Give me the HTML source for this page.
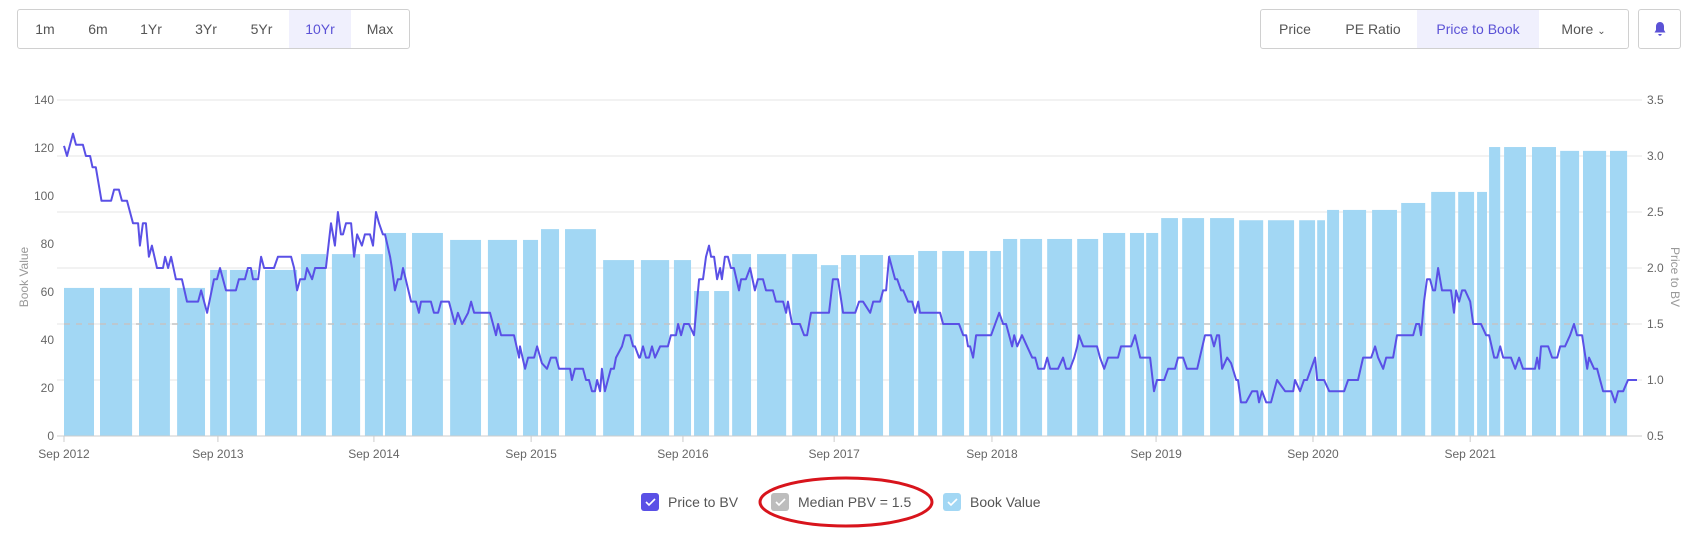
<!DOCTYPE html>
<html><head><meta charset="utf-8"><style>
body{margin:0;background:#fff;font-family:"Liberation Sans",sans-serif;width:1699px;height:542px;overflow:hidden;position:relative}
.grp{position:absolute;top:9px;height:40px;border:1px solid #d0d0d0;border-radius:3px;box-sizing:border-box;display:flex;background:#fff}
.btn{height:38px;line-height:38px;font-size:14px;color:#555;text-align:center;box-sizing:border-box}
.btn.act{background:#f0f0fd;color:#5b52d6}
</style></head><body>
<div class="grp" style="left:17px;width:393px">
<div class="btn" style="width:54px">1m</div>
<div class="btn" style="width:52px">6m</div>
<div class="btn" style="width:54px">1Yr</div>
<div class="btn" style="width:56px">3Yr</div>
<div class="btn" style="width:55px">5Yr</div>
<div class="btn act" style="width:62px">10Yr</div>
<div class="btn" style="width:58px">Max</div>
</div>
<div class="grp" style="left:1260px;width:369px">
<div class="btn" style="width:68px">Price</div>
<div class="btn" style="width:88px">PE Ratio</div>
<div class="btn act" style="width:122px">Price to Book</div>
<div class="btn" style="width:89px">More <span style="font-size:10px">&#8964;</span></div>
</div>
<div class="grp" style="left:1638px;width:43px;justify-content:center;align-items:center">
<svg width="14" height="16" viewBox="0 0 14 16"><path d="M7 1c-2.5 0-4 2-4 4.5V9L1.5 11.5h11L11 9V5.5C11 3 9.5 1 7 1z M5.3 13a1.7 1.7 0 0 0 3.4 0z" fill="#5b52d6"/></svg>
</div>
<svg id="chart" width="1699" height="542" style="position:absolute;left:0;top:0"></svg>
<script>
const xTickLabels=["Sep 2012","Sep 2013","Sep 2014","Sep 2015","Sep 2016","Sep 2017","Sep 2018","Sep 2019","Sep 2020","Sep 2021"];
const xTickWeeks=[0,51.3,103.3,155.7,206.3,256.7,309.3,364,416.3,468.7];
const leftTicks=[0,20,40,60,80,100,120,140];
const rightTicks=[0.5,1.0,1.5,2.0,2.5,3.0,3.5];
const medianPBV=1.5;
const barStart=[0,12,25,37.7,48.7,55.3,67,79,89.3,100.3,107,116,128.7,141.3,153,159,167,179.7,192.3,203.3,210,216.7,222.7,231,242.7,252.3,259,265.3,275,284.7,292.7,301.7,308.7,313,318.7,327.7,337.7,346.3,355.3,360.7,365.7,372.7,382,391.7,401.3,411.7,417.7,421,426.3,436,445.7,455.7,464.7,471,475,480,489.3,498.7,506.3,515.3];
const barEnd=[10,22.7,35.3,47,54.3,64.3,77.7,87.3,98.7,106.3,114,126.3,139,151,158,165,177.3,190,201.7,209,215,221.7,229,240.7,251,258,264,273,283.3,291,300,307.7,312.3,317.7,326,336,344.7,353.7,360,364.7,371.3,380,390,399.7,410,417,420.3,425,434,444.3,453.7,463.7,470,474.3,478.7,487.3,497.3,505,514,521];
const bookValue=[61.7,61.7,61.7,61.7,69.2,69.2,69.2,75.8,75.8,75.8,84.6,84.6,81.7,81.7,81.7,86.2,86.2,73.3,73.3,73.3,60.4,60.4,75.8,75.8,75.8,71.2,75.4,75.4,75.4,77.1,77.1,77.1,77.1,82.1,82.1,82.1,82.1,84.6,84.6,84.6,90.8,90.8,90.8,89.9,89.9,89.9,89.9,94.2,94.2,94.2,97.1,101.7,101.7,101.7,120.4,120.4,120.4,118.8,118.8,118.8];
const pbvWeeks=[0,1,3,4,6.3,7.3,8.7,9.5,10.6,12.5,15.7,16.7,18.3,19.3,21,23,24.7,25.3,26.3,27.3,28.3,29.3,31,33,33.7,34.7,35.7,37.3,39.3,41,44.7,45.7,46.7,47.7,50,51,52,53,54,57.3,58.3,60.3,61.3,62.3,63,64.7,65.7,66.7,70,71.3,75.7,76.7,77.7,78.7,80.3,81,82.7,83.7,87.3,89,90.3,91.3,92.3,93,94,95.7,96.7,97.7,99.3,100.3,102,103,104,105,106.3,107,108.7,109.3,110.3,111.3,112.3,113,115.7,117.3,118.3,119,122.3,123.3,124.7,125.7,128.3,130.3,131.3,132.7,134.7,135.7,136.7,142,144,144.7,145.7,150,151.7,152,153.7,154.7,156.7,157.7,159.3,161,162.3,164,165,168.7,169.3,170.3,173,174,175,176,177,177.7,178.7,179.3,180.3,182.3,183.3,184,186,187,188.7,189.7,190.3,191.7,192,193,194,195,196,197,198.7,201.3,202.3,204,204.7,205.7,206.7,208.3,210,211,211.7,213,214,215,215.7,216.7,217.7,218.7,219.3,220.3,221.3,222.3,223.3,225,225.7,227.3,228.7,230.3,231.3,233,234,236.3,237.3,239.7,240.7,241.3,242.7,245.3,246.7,247.7,249,255,256.3,258,259.7,263.7,265,266.3,268.7,269.7,272,273,274,275,277,277.7,279,279.7,281.3,282.7,283.7,284.7,285.3,292,293,298.3,299.7,300.7,301.3,302,303,304,309,311.7,313,314,316,316.7,317.7,319.3,321,322.7,323.7,324.7,326.7,327.7,328.7,331.3,333,334,335.3,336.7,337.7,338.3,339.7,344.3,345.3,346.7,348,351.3,352.3,355.7,357,358.7,362,363.3,364.3,366.7,368,370.3,371.3,373,374.3,377.7,380.3,382.3,383.3,384.3,385,386,387.7,389,390.7,391.3,392.3,394,396,397.7,398.3,399.3,400.7,402.3,404.3,407,409.7,410.3,412,413.3,414.3,417,417.7,420,421.7,426.7,428,431.3,433,435.7,437,438,439.7,440.7,443,444.3,449.7,450.7,451.7,452.3,453.3,454.3,455.3,456.3,457,458,459.3,462.3,463.3,464,465,466,467,468.7,469.7,472.3,474,475,476.7,477.7,478.7,479.7,482.3,483.7,485,486.3,490.3,491,491.7,492.3,494.7,496,497.7,498.7,500.3,502,503.3,504.3,506,507.7,508.3,510,511,513,515.7,517,518,519.7,521.3,524.3];
const pbvValues=[3.09,3.0,3.2,3.1,3.1,3.0,3.0,2.9,2.9,2.6,2.6,2.7,2.7,2.6,2.6,2.4,2.4,2.2,2.4,2.4,2.1,2.2,2.0,2.0,2.1,2.0,2.1,1.9,1.9,1.7,1.7,1.8,1.7,1.6,1.9,1.9,2.0,1.9,1.8,1.8,1.9,1.9,2.0,2.0,1.9,1.9,2.1,2.0,2.0,2.1,2.1,2.0,1.8,1.9,1.9,2.0,1.9,2.0,2.0,2.4,2.2,2.5,2.3,2.3,2.4,2.4,2.1,2.3,2.2,2.3,2.3,2.2,2.5,2.4,2.3,2.3,2.1,2.0,1.8,1.9,1.9,2.0,1.7,1.7,1.6,1.7,1.7,1.6,1.6,1.7,1.7,1.5,1.6,1.5,1.6,1.7,1.6,1.6,1.4,1.5,1.4,1.4,1.2,1.3,1.1,1.2,1.2,1.3,1.15,1.1,1.2,1.2,1.1,1.1,1.0,1.1,1.1,1.0,1.0,0.9,0.9,1.0,0.9,1.1,0.9,1.1,1.1,1.2,1.3,1.4,1.4,1.3,1.3,1.2,1.2,1.3,1.2,1.2,1.3,1.2,1.3,1.3,1.4,1.4,1.5,1.4,1.5,1.5,1.4,1.7,1.9,1.9,2.1,2.2,2.1,2.1,1.9,2.0,1.9,2.1,2.1,2.0,2.0,1.8,1.9,1.9,2.0,1.8,1.9,1.9,1.8,1.8,1.7,1.7,1.6,1.7,1.5,1.5,1.4,1.4,1.6,1.6,1.9,1.9,1.6,1.6,1.7,1.7,1.6,1.7,1.7,1.8,1.8,2.1,1.9,1.9,1.8,1.8,1.7,1.7,1.6,1.7,1.6,1.6,1.5,1.5,1.4,1.4,1.3,1.3,1.2,1.4,1.4,1.6,1.5,1.5,1.3,1.4,1.3,1.4,1.3,1.2,1.2,1.1,1.1,1.2,1.1,1.1,1.2,1.1,1.1,1.2,1.3,1.4,1.3,1.3,1.2,1.1,1.2,1.2,1.3,1.3,1.4,1.2,1.2,0.9,1.0,1.0,1.1,1.1,1.2,1.2,1.1,1.1,1.4,1.4,1.3,1.4,1.4,1.1,1.2,1.15,1.0,1.0,0.8,0.8,0.9,0.9,0.8,0.9,0.8,0.8,1.0,0.9,0.9,1.0,0.9,1.0,1.0,1.2,1.0,1.0,0.9,0.9,1.0,1.0,1.2,1.2,1.3,1.2,1.1,1.2,1.2,1.4,1.4,1.5,1.5,1.4,1.7,1.9,1.9,1.8,1.8,2.0,1.8,1.8,1.6,1.8,1.7,1.8,1.8,1.7,1.5,1.5,1.4,1.4,1.2,1.2,1.3,1.2,1.2,1.1,1.2,1.1,1.1,1.2,1.1,1.3,1.3,1.2,1.2,1.3,1.3,1.4,1.5,1.4,1.4,1.1,1.2,1.1,1.1,0.9,0.9,0.8,0.9,0.9,1.0,1.0];

const NS="http://www.w3.org/2000/svg";
const svg=document.getElementById('chart');
const X0=64,X1=1637,W0=0,W1=524.3,TOP=100,BOT=436,GL=57,GR=1642;
const xs=w=>X0+(w-W0)/(W1-W0)*(X1-X0);
const yl=v=>BOT-v/140*(BOT-TOP);
const yr=v=>BOT-(v-0.5)/3*(BOT-TOP);
function el(tag,attrs,parent){const e=document.createElementNS(NS,tag);for(const k in attrs)e.setAttribute(k,attrs[k]);(parent||svg).appendChild(e);return e;}

const grid=el('g',{});


rightTicks.forEach(v=>{
  if(v===0.5)return;
  const l=el('line',{x1:GL,x2:GR,y1:yr(v),y2:yr(v),stroke:'#e6e6e6','stroke-width':1},grid);
  
  
});

const bars=el('g',{fill:'#a2d7f4'});


bookValue.forEach((v,i)=>{
  const x=xs(barStart[i]),x2=xs(barEnd[i]);
  const r=el('rect',{x:x,y:yl(v),width:Math.max(1,x2-x),height:BOT-yl(v)},bars);
  
  
});

const med=el('line',{x1:X0,x2:GR-8,y1:yr(medianPBV),y2:yr(medianPBV),stroke:'#c4c4c4','stroke-width':1.5,'stroke-dasharray':'6,6'});



const axis=el('line',{x1:GL,x2:GR,y1:BOT,y2:BOT,stroke:'#cccccc','stroke-width':1});



let d='';
pbvWeeks.forEach((w,i)=>{d+=(i?'L':'M')+xs(w).toFixed(1)+','+yr(pbvValues[i]).toFixed(1);});
const line=el('path',{d:d,fill:'none',stroke:'#5a50e6','stroke-width':2,'stroke-linejoin':'round'});



leftTicks.forEach(v=>{
  const t=el('text',{x:54,y:yl(v)+4,'text-anchor':'end','font-size':12,fill:'#666'});
  t.textContent=v;
  
  
});
rightTicks.forEach(v=>{
  const t=el('text',{x:1647,y:yr(v)+4,'font-size':12,fill:'#666'});
  t.textContent=v.toFixed(1);
  
  
});
xTickLabels.forEach((s,i)=>{
  const x=xs(xTickWeeks[i]);
  const tk=el('line',{x1:x,x2:x,y1:BOT,y2:BOT+6,stroke:'#ccc'});
  
  
  const t=el('text',{x:x,y:BOT+22,'text-anchor':'middle','font-size':12,fill:'#666'});
  t.textContent=s;
  
  
});
const lt=el('text',{x:0,y:0,transform:'translate(28,277) rotate(-90)','text-anchor':'middle','font-size':12,fill:'#999'});
lt.textContent='Book Value';


const rt=el('text',{x:0,y:0,transform:'translate(1671,277) rotate(90)','text-anchor':'middle','font-size':12,fill:'#999'});
rt.textContent='Price to BV';



function legend(name,bx,color,label){
  const g=el('g',{});
  
  
  el('rect',{x:bx,y:493,width:18,height:18,rx:3,fill:color},g);
  el('path',{d:`M${bx+5},502 l3,3 l6,-6`,stroke:'#fff','stroke-width':1.6,fill:'none'},g);
  const t=el('text',{x:bx+27,y:507,'font-size':14,fill:'#555'},g);
  t.textContent=label;
}
legend('legend-price-to-bv',641,'#5a50e6','Price to BV');
legend('legend-median-pbv',771,'#bdbdbd','Median PBV = 1.5');
legend('legend-book-value',943,'#a2d7f4','Book Value');
const ell=el('ellipse',{cx:846,cy:502,rx:86,ry:24,fill:'none',stroke:'#d8141c','stroke-width':3});


</script>
</body></html>
